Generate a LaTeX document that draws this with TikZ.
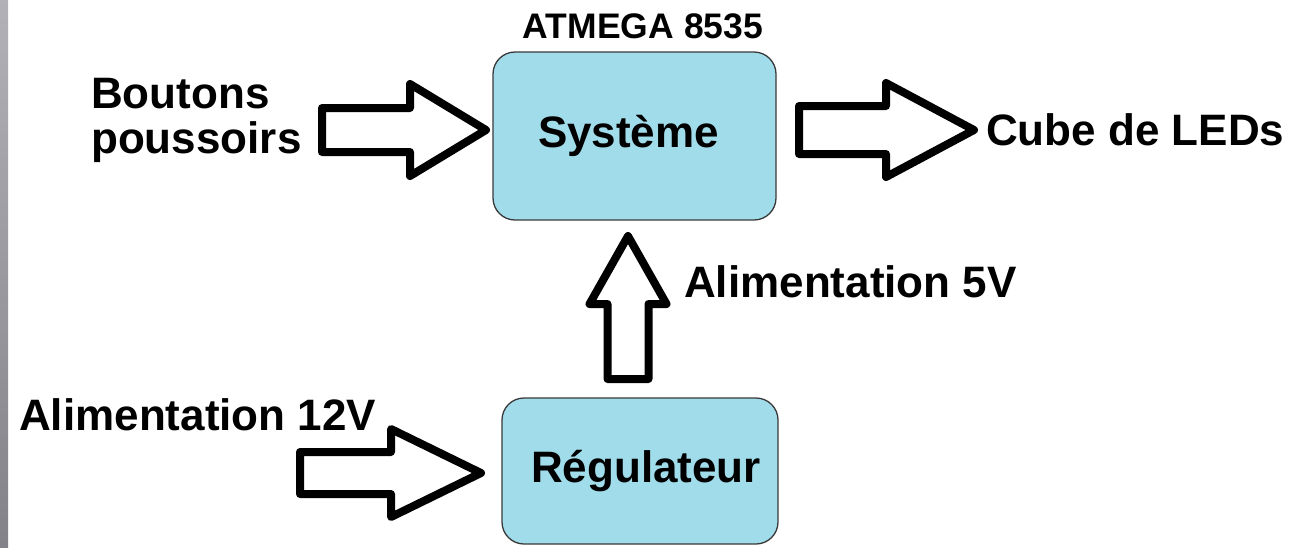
\documentclass[tikz,border=0pt]{standalone}
\usepackage{fontspec}
\setmainfont{Liberation Sans}
\usetikzlibrary{calc}
\definecolor{boxblue}{HTML}{A0DCEA}
\definecolor{boxline}{HTML}{3A3A3A}
\definecolor{bartop}{HTML}{B3B1B8}
\definecolor{barmid}{HTML}{ACAAB1}
\definecolor{barbot}{HTML}{838288}
\tikzset{
  block/.style={draw=boxline, line width=1.3pt, fill=boxblue, rounded corners=22pt,
    font=\fontsize{44}{53}\selectfont\bfseries, inner sep=0pt},
  label/.style={font=\fontsize{44}{53}\selectfont\bfseries, inner sep=0pt, anchor=base west},
  chip/.style={font=\fontsize{35.5}{42}\selectfont\bfseries, inner sep=0pt, anchor=base},
  blockarrow/.style={draw=black, line width=8pt, line join=round, fill=white},
}
\begin{document}
\begin{tikzpicture}[x=1pt, y=-1pt]
  \useasboundingbox (0,0) rectangle (1295,547);
  \fill[white] (0,0) rectangle (1295,547);
  % grey strip along the left edge
  \shade[top color=bartop, middle color=barmid, bottom color=barbot] (0,0) rectangle (8,547);

  % blocks
  \node[block, minimum width=283pt, minimum height=168pt] (sys) at (634.5,136) {Système\hspace*{12pt}};
  \node[block, minimum width=276pt, minimum height=146pt] (reg) at (640,471) {\hspace*{12pt}Régulateur};
  \node[chip] (chip) at (643,38) {ATMEGA 8535};

  % labels
  \node[label] (bout) at (91,108) {Boutons};
  \node[label] (pous) at (91,153) {poussoirs};
  \node[label] (cube) at (986,145) {Cube de LEDs};
  \node[label] (a5v) at (684,297) {Alimentation 5V};
  \node[label] (a12v) at (19,430) {Alimentation 12V};

  % arrow tips
  \coordinate (tipA) at (486,130);
  \coordinate (tipB) at (974,130);
  \coordinate (tipC) at (481,473);
  \coordinate (tipD) at (628,236);

  % push buttons -> system
  \draw[blockarrow] (tipA) -- ++(-76,-46) -- ++(0,24) -- ++(-88,0) -- ++(0,44)
    -- ++(88,0) -- ++(0,24) -- cycle;
  % system -> LED cube
  \draw[blockarrow] (tipB) -- ++(-88,-47) -- ++(0,23) -- ++(-87,0) -- ++(0,48)
    -- ++(87,0) -- ++(0,23) -- cycle;
  % 12V supply -> regulator
  \draw[blockarrow] (tipC) -- ++(-90,-44) -- ++(0,23) -- ++(-91,0) -- ++(0,42)
    -- ++(91,0) -- ++(0,23) -- cycle;
  % regulator -> system (5V)
  \draw[blockarrow] (tipD) -- ++(38.5,68) -- ++(-18,0) -- ++(0,75) -- ++(-41,0)
    -- ++(0,-75) -- ++(-18,0) -- cycle;
\end{tikzpicture}
\end{document}
